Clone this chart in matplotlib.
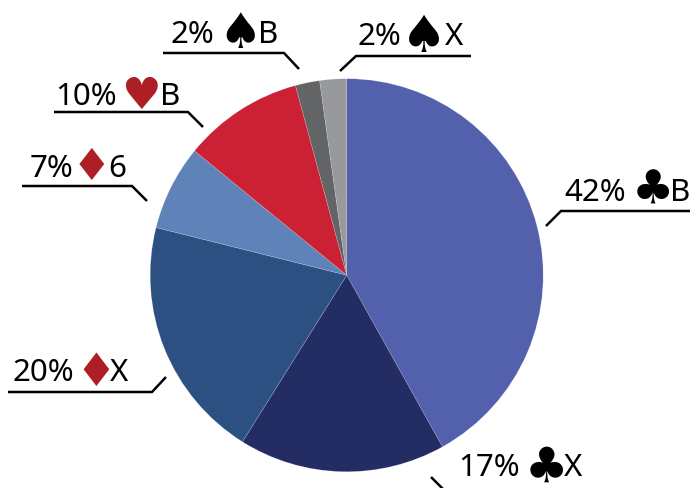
#!/usr/bin/env python

import matplotlib
matplotlib.use('Agg')
import matplotlib.pyplot as plt
from matplotlib.font_manager import FontProperties
from matplotlib.textpath import TextPath

WIDTH = 693
HEIGHT = 489
FONT = 'Noto Sans'
TEXT_SIZE = 22.5

values = [41.9, 17, 20, 7, 9.9, 2, 2.2]
suits = ['♣', '♣', '♦', '♦', '♥', '♠', '♠']
ranks = ['B', 'X', 'X', '6', 'B', 'B', 'X']
colors = ['#5360AC', '#242C64', '#2D5083', '#5F83B8', '#CC2135', '#636466', '#98999D']
suit_colors = {'♣': 'black', '♠': 'black', '♦': '#AD1F24', '♥': '#AD1F24'}

# layout in image pixels, y going down
pct_x = [564, 458, 12, 30, 55, 170, 357]
baselines = [201, 476, 381, 177, 105, 43, 45]
suit_boxes = [(653, 171, 204), (546, 448, 482), (96, 354, 386), (91, 149, 180),
              (141, 78, 109), (240, 14, 48), (424, 16, 52)]
rank_x = [670, 564, 110, 108, 160, 258, 445]
leaders = [
    [(546, 227), (561, 212), (690, 212)],
    [(431, 478), (445, 492)],
    [(8, 393), (152, 393), (166, 378)],
    [(22, 187), (132, 187), (147, 202)],
    [(54, 113), (188, 113), (203, 128)],
    [(163, 54), (284, 54), (299, 70)],
    [(340, 72), (356, 57), (471, 57)],
]


def flip(y):
    return HEIGHT - y


def draw_suit(ax, ch, box):
    # size the glyph from the height it has in the picture
    xc, top, bottom = box
    ext = TextPath((0, 0), ch, size=1, prop=FontProperties(family='DejaVu Sans')).get_extents()
    px = (bottom - top) / ext.height * 1.04
    ax.text(xc, flip(bottom) - ext.y0 * px, ch, family='DejaVu Sans', size=px * 0.72,
            color=suit_colors[ch], ha='center', va='baseline')


fig = plt.figure(figsize=(WIDTH / 100, HEIGHT / 100), dpi=100)
ax = fig.add_axes([0, 0, 1, 1])

ax.pie(values, colors=colors, startangle=90, counterclock=False,
       center=(346.7, flip(276.2)), radius=196.5,
       wedgeprops={'edgecolor': '#FFFFFF40', 'linewidth': 0.4})

ax.set_xlim(0, WIDTH)
ax.set_ylim(0, HEIGHT)
ax.set_aspect('equal')
ax.axis('off')

for i, v in enumerate(values):
    ax.text(pct_x[i], flip(baselines[i]), f'{round(v)}%', family=FONT, size=TEXT_SIZE,
            color='black', ha='left', va='baseline')
    draw_suit(ax, suits[i], suit_boxes[i])
    ax.text(rank_x[i], flip(baselines[i]), ranks[i], family=FONT, size=TEXT_SIZE,
            color='black', ha='left', va='baseline')
    xs = [p[0] for p in leaders[i]]
    ys = [flip(p[1]) for p in leaders[i]]
    ax.plot(xs, ys, color='black', lw=1.8, solid_capstyle='butt', solid_joinstyle='miter')

fig.savefig('out.png', dpi=100)
